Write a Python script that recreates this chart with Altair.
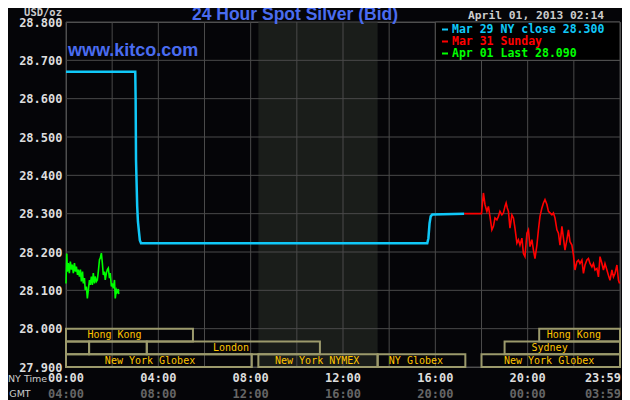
import altair as alt
import pandas as pd

# ---------------- data ----------------
# Mar 29 NY close (cyan) – minutes after 00:00 NY time, price
cyan_min = [0, 180, 181, 182, 185, 187, 190, 192, 195, 939, 942, 945, 948, 952, 1035]
cyan_val = [28.670, 28.670, 28.598, 28.440, 28.320, 28.279, 28.249, 28.230, 28.223,
            28.223, 28.236, 28.275, 28.293, 28.298, 28.300]

# Mar 31 Sunday (red)
red_min = [1035, 1080, 1085, 1089, 1094, 1098, 1102, 1107, 1111, 1115, 1120, 1124, 1128,
           1133, 1137, 1141, 1144, 1147, 1150, 1154, 1159, 1163, 1167, 1172, 1176, 1180,
           1185, 1189, 1193, 1198, 1202, 1206, 1211, 1215, 1219, 1224, 1228, 1232, 1237,
           1241, 1245, 1250, 1254, 1258, 1263, 1267, 1271, 1276, 1280, 1284, 1289, 1293,
           1297, 1302, 1306, 1310, 1315, 1319, 1323, 1328, 1332, 1336, 1341, 1345, 1349,
           1354, 1358, 1362, 1367, 1371, 1375, 1380, 1384, 1388, 1393, 1397, 1401, 1406,
           1410, 1414, 1419, 1423, 1427, 1432, 1436, 1439]
red_val = [28.300, 28.300, 28.354, 28.324, 28.306, 28.319, 28.293, 28.258, 28.267, 28.289,
           28.284, 28.293, 28.306, 28.297, 28.302, 28.319, 28.328, 28.315, 28.306, 28.262,
           28.297, 28.289, 28.262, 28.223, 28.232, 28.218, 28.236, 28.196, 28.188, 28.249,
           28.258, 28.214, 28.232, 28.205, 28.183, 28.218, 28.258, 28.293, 28.315, 28.328,
           28.337, 28.324, 28.306, 28.302, 28.297, 28.302, 28.289, 28.258, 28.249, 28.218,
           28.267, 28.236, 28.205, 28.232, 28.258, 28.227, 28.218, 28.192, 28.153, 28.175,
           28.179, 28.170, 28.179, 28.144, 28.166, 28.179, 28.183, 28.170, 28.161, 28.170,
           28.153, 28.157, 28.135, 28.188, 28.170, 28.153, 28.170, 28.153, 28.139, 28.126,
           28.153, 28.135, 28.144, 28.166, 28.126, 28.118]

# Apr 01 (green)
green_min = [0, 2, 3.5, 6, 8.7, 11.3, 14, 16.5, 19, 22, 24.5, 27, 30, 32, 35, 37.5, 40, 43,
             45, 48, 50, 53, 55.5, 58, 61, 63, 66, 68.5, 71, 74, 76, 79, 81.5, 84, 87, 89,
             92, 94.5, 97, 100, 102, 105, 107.5, 110, 113, 115, 118, 120, 123, 126, 128,
             131, 133, 136, 137]
green_val = [28.118, 28.196, 28.149, 28.171, 28.145, 28.175, 28.154, 28.167, 28.145, 28.171,
             28.149, 28.162, 28.140, 28.154, 28.136, 28.154, 28.123, 28.149, 28.118, 28.132,
             28.101, 28.110, 28.079, 28.101, 28.127, 28.114, 28.136, 28.114, 28.145, 28.118,
             28.136, 28.123, 28.127, 28.149, 28.180, 28.184, 28.197, 28.171, 28.140, 28.149,
             28.127, 28.145, 28.154, 28.158, 28.132, 28.145, 28.110, 28.118, 28.105, 28.127,
             28.079, 28.101, 28.096, 28.103, 28.090]

# market sessions (hours NY time)
sess_name = ["Hong Kong", "Hong Kong", "", "", "London", "Sydney",
             "New York Globex", "New York NYMEX", "NY Globex", "New York Globex"]
sess_start = [0, 20.5, 0, 1.0, 3.5, 19.0, 0, 8.333, 13.5, 18.0]
sess_end = [5.5, 24, 1.0, 3.5, 11.0, 24, 8.05, 13.5, 17.3, 24]
sess_row = [0, 0, 1, 1, 1, 1, 2, 2, 2, 2]
sess_label_at = [2.1, 22.0, 0.5, 2.25, 7.15, 20.95, 3.64, 10.88, 15.16, 20.93]

# COMEX floor hours (shaded)
shade_start = [8.333]
shade_end = [13.5]

grid_hours = [0, 2, 4, 6, 8, 10, 12, 14, 16, 18, 20, 22, 24]
grid_values = [27.9, 28.0, 28.1, 28.2, 28.3, 28.4, 28.5, 28.6, 28.7, 28.8]

tick_hours = [0, 4, 8, 12, 16, 20]
ny_labels = ["00:00", "04:00", "08:00", "12:00", "16:00", "20:00"]
gmt_labels = ["04:00", "08:00", "12:00", "16:00", "20:00", "00:00"]
end_ny_label = "23:59"
end_gmt_label = "03:59"

legend_labels = ["Mar 29 NY close 28.300", "Mar 31 Sunday", "Apr 01 Last 28.090"]
legend_colors = ["#10c8f8", "#ff0000", "#00ff00"]

title_text = "24 Hour Spot Silver (Bid)"
site_text = "www.kitco.com"
date_text = "April 01, 2013 02:14"
unit_text = "USD/oz"

# ---------------- chart ----------------
W, H = 554, 345
MONO = "DejaVu Sans Mono"
BG = "#050508"
BLUE = "#4a6cf0"

xs = alt.Scale(domain=[0, 24], nice=False, zero=False)
ys = alt.Scale(domain=[27.9, 28.8], nice=False, zero=False)

yaxis = alt.Axis(values=grid_values, format=".3f", labelFont=MONO, labelFontSize=12,
                 labelFontWeight="bold", labelColor="#dddddd", grid=False, ticks=False,
                 domain=False, labelPadding=4, title=None)


def series(mins, vals):
    return pd.DataFrame({"min": mins, "price": vals})


shade = alt.Chart(pd.DataFrame({"s": shade_start, "e": shade_end})).mark_rect(
    color="#1a1d1a").encode(
    x=alt.X("s:Q", scale=xs, axis=None), x2="e:Q",
    y=alt.value(0), y2=alt.value(H))

vgrid = alt.Chart(pd.DataFrame({"h": grid_hours})).mark_rule(
    color="#4a4a4a", strokeWidth=1).encode(
    x=alt.X("h:Q", scale=xs, axis=None), y=alt.value(0), y2=alt.value(H))

hgrid = alt.Chart(pd.DataFrame({"v": grid_values})).mark_rule(
    color="#4a4a4a", strokeWidth=1).encode(
    y=alt.Y("v:Q", scale=ys, axis=yaxis), x=alt.value(0), x2=alt.value(W))

sess_df = pd.DataFrame({"name": sess_name, "start": sess_start, "end": sess_end,
                        "row": sess_row, "lab": sess_label_at})
sess_base = alt.Chart(sess_df).transform_calculate(
    top="28.0 - datum.row * 0.1 / 3",
    bot="28.0 - (datum.row + 1) * 0.1 / 3",
    mid="28.0 - (datum.row + 0.5) * 0.1 / 3")
sess_box = sess_base.mark_rect(fillOpacity=0, stroke="#9c9a6c", strokeWidth=2).encode(
    x=alt.X("start:Q", scale=xs, axis=None), x2="end:Q",
    y=alt.Y("top:Q", scale=ys, axis=yaxis), y2="bot:Q")
sess_txt = sess_base.mark_text(font=MONO, fontSize=10, color="#ffc400",
                               baseline="middle").encode(
    x=alt.X("lab:Q", scale=xs, axis=None),
    y=alt.Y("mid:Q", scale=ys, axis=yaxis), text="name:N")


def line(mins, vals, color, width):
    return alt.Chart(series(mins, vals)).transform_calculate(
        hour="datum.min / 60").mark_line(color=color, strokeWidth=width).encode(
        x=alt.X("hour:Q", scale=xs, axis=None),
        y=alt.Y("price:Q", scale=ys, axis=yaxis))


cyan = line(cyan_min, cyan_val, legend_colors[0], 2.5)
red = line(red_min, red_val, legend_colors[1], 1.6)
green = line(green_min, green_val, legend_colors[2], 1.6)

# legend box (occupies the 16:00-24:00 x 28.7-28.8 grid cell)
legend_box = alt.Chart(pd.DataFrame({"a": [0]})).mark_rect(
    fill="#000000", stroke="#555555", strokeWidth=1).encode(
    x=alt.value(16 / 24 * W), x2=alt.value(W), y=alt.value(0), y2=alt.value(H / 9))

legend_rows = []
for i, (lab, col) in enumerate(zip(legend_labels, legend_colors)):
    yc = 7.5 + 12 * i
    legend_rows.append(
        alt.Chart(pd.DataFrame({"t": [lab]})).mark_text(
            font=MONO, fontSize=11.5, fontWeight="bold", color=col, align="left",
            baseline="middle").encode(
            text="t:N", x=alt.value(386), y=alt.value(yc)))
    legend_rows.append(
        alt.Chart(pd.DataFrame({"t": [lab]})).mark_rule(color=col, strokeWidth=2).encode(
            x=alt.value(376), x2=alt.value(382), y=alt.value(yc)))


def label(text, x, y, size, color, weight="normal", align="center", font=MONO,
          baseline="middle"):
    return alt.Chart(pd.DataFrame({"t": [text]})).mark_text(
        font=font, fontSize=size, fontWeight=weight, color=color, align=align,
        baseline=baseline).encode(text="t:N", x=alt.value(x), y=alt.value(y))


title = label(title_text, 229, -2, 17.5, BLUE, "bold", font="Liberation Sans",
              baseline="alphabetic")
site = label(site_text, 2, 34, 18, BLUE, "bold", align="left", font="Liberation Sans",
             baseline="alphabetic")
date = label(date_text, 402, -3.5, 11.3, "#cccccc", "bold", align="left",
             baseline="alphabetic")
unit = label(unit_text, -4, -6.5, 10.5, "#cccccc", "bold", align="right",
             baseline="alphabetic")
nytime = label("NY Time", -58, 357, 9.5, "#cccccc", align="left", font="DejaVu Sans")
gmt = label("GMT", -46, 371.5, 9.5, "#cccccc", font="DejaVu Sans")

ny_df = pd.DataFrame({"h": tick_hours, "ny": ny_labels, "gmt": gmt_labels})
ny_txt = alt.Chart(ny_df).mark_text(font=MONO, fontSize=12, fontWeight="bold",
                                    color="#dddddd", baseline="middle").encode(
    x=alt.X("h:Q", scale=xs, axis=None), y=alt.value(356), text="ny:N")
gmt_txt = alt.Chart(ny_df).mark_text(font=MONO, fontSize=12, fontWeight="bold",
                                     color="#666666", baseline="middle").encode(
    x=alt.X("h:Q", scale=xs, axis=None), y=alt.value(371.5), text="gmt:N")
end_df = pd.DataFrame({"h": [24], "ny": [end_ny_label], "gmt": [end_gmt_label]})
end_ny = alt.Chart(end_df).mark_text(font=MONO, fontSize=12, fontWeight="bold",
                                     color="#dddddd", baseline="middle", align="right",
                                     dx=1).encode(
    x=alt.X("h:Q", scale=xs, axis=None), y=alt.value(356), text="ny:N")
end_gmt = alt.Chart(end_df).mark_text(font=MONO, fontSize=12, fontWeight="bold",
                                      color="#666666", baseline="middle", align="right",
                                      dx=1).encode(
    x=alt.X("h:Q", scale=xs, axis=None), y=alt.value(371.5), text="gmt:N")

chart = alt.layer(
    shade, vgrid, hgrid, sess_box, sess_txt, cyan, red, green, legend_box,
    *legend_rows, title, site, date, unit, nytime, gmt, ny_txt, gmt_txt, end_ny, end_gmt
).properties(
    width=W, height=H,
    autosize=alt.AutoSizeParams(type="none"),
    padding={"left": 58, "top": 14, "right": 2, "bottom": 34},
).configure(background=BG).configure_view(stroke="#555555", fill=BG)

chart.save("out.html", embed_options={"renderer": "svg", "actions": False})
